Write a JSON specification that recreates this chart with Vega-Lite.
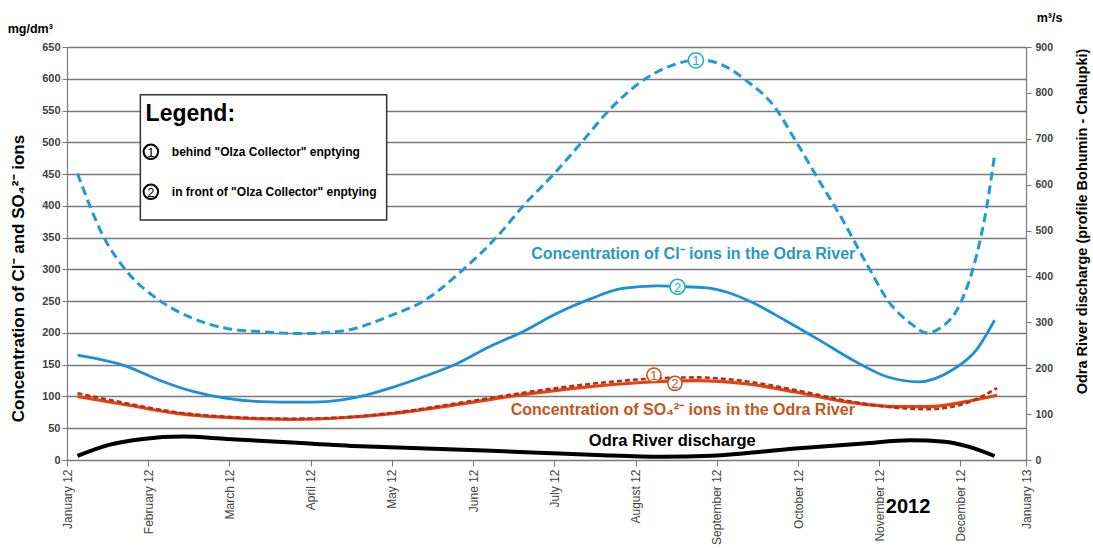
{
  "$schema": "https://vega.github.io/schema/vega-lite/v6.json",
  "width": 959,
  "height": 413,
  "autosize": "none",
  "padding": {"left": 67, "top": 47, "right": 67, "bottom": 88},
  "background": "white",
  "config": {
    "view": {"stroke": null},
    "font": "Liberation Sans",
    "axis": {"labelFont": "Liberation Sans", "titleFont": "Liberation Sans", "domainColor": "#7a7a7a", "tickColor": "#7a7a7a", "gridColor": "#7a7a7a"},
    "axisLeft": {"labelFontWeight": "bold", "labelFontSize": 11, "labelColor": "#404040", "labelPadding": 2, "tickSize": 5},
    "axisRight": {"labelFontWeight": "bold", "labelFontSize": 10.5, "labelColor": "#404040", "labelPadding": 4, "tickSize": 5},
    "axisBottom": {"labelFontWeight": "normal", "labelFontSize": 12, "labelColor": "#444444", "labelPadding": 3, "tickSize": 6}
  },
  "datasets": {
    "conc": [
      {"date": "2012-01-05", "series": "Cl1", "value": 451},
      {"date": "2012-01-15", "series": "Cl1", "value": 351},
      {"date": "2012-01-24", "series": "Cl1", "value": 296},
      {"date": "2012-02-05", "series": "Cl1", "value": 252},
      {"date": "2012-02-18", "series": "Cl1", "value": 223},
      {"date": "2012-03-02", "series": "Cl1", "value": 207},
      {"date": "2012-03-15", "series": "Cl1", "value": 202},
      {"date": "2012-03-30", "series": "Cl1", "value": 199},
      {"date": "2012-04-15", "series": "Cl1", "value": 203},
      {"date": "2012-05-04", "series": "Cl1", "value": 228},
      {"date": "2012-05-16", "series": "Cl1", "value": 250},
      {"date": "2012-05-31", "series": "Cl1", "value": 299},
      {"date": "2012-06-13", "series": "Cl1", "value": 351},
      {"date": "2012-06-24", "series": "Cl1", "value": 404},
      {"date": "2012-07-05", "series": "Cl1", "value": 451},
      {"date": "2012-07-15", "series": "Cl1", "value": 498},
      {"date": "2012-07-26", "series": "Cl1", "value": 551},
      {"date": "2012-08-08", "series": "Cl1", "value": 598},
      {"date": "2012-08-21", "series": "Cl1", "value": 624},
      {"date": "2012-08-29", "series": "Cl1", "value": 630},
      {"date": "2012-09-07", "series": "Cl1", "value": 622},
      {"date": "2012-09-16", "series": "Cl1", "value": 598},
      {"date": "2012-09-27", "series": "Cl1", "value": 556},
      {"date": "2012-10-05", "series": "Cl1", "value": 503},
      {"date": "2012-10-14", "series": "Cl1", "value": 440},
      {"date": "2012-10-23", "series": "Cl1", "value": 378},
      {"date": "2012-11-01", "series": "Cl1", "value": 310},
      {"date": "2012-11-10", "series": "Cl1", "value": 247},
      {"date": "2012-11-18", "series": "Cl1", "value": 215},
      {"date": "2012-11-24", "series": "Cl1", "value": 200},
      {"date": "2012-11-29", "series": "Cl1", "value": 207},
      {"date": "2012-12-07", "series": "Cl1", "value": 247},
      {"date": "2012-12-13", "series": "Cl1", "value": 320},
      {"date": "2012-12-17", "series": "Cl1", "value": 398},
      {"date": "2012-12-20", "series": "Cl1", "value": 480},

      {"date": "2012-01-05", "series": "Cl2", "value": 165},
      {"date": "2012-01-24", "series": "Cl2", "value": 147},
      {"date": "2012-02-05", "series": "Cl2", "value": 126},
      {"date": "2012-02-18", "series": "Cl2", "value": 108},
      {"date": "2012-03-02", "series": "Cl2", "value": 97},
      {"date": "2012-03-15", "series": "Cl2", "value": 92},
      {"date": "2012-03-30", "series": "Cl2", "value": 91},
      {"date": "2012-04-09", "series": "Cl2", "value": 92},
      {"date": "2012-04-22", "series": "Cl2", "value": 100},
      {"date": "2012-05-04", "series": "Cl2", "value": 114},
      {"date": "2012-05-16", "series": "Cl2", "value": 131},
      {"date": "2012-05-29", "series": "Cl2", "value": 152},
      {"date": "2012-06-10", "series": "Cl2", "value": 178},
      {"date": "2012-06-23", "series": "Cl2", "value": 202},
      {"date": "2012-07-06", "series": "Cl2", "value": 231},
      {"date": "2012-07-19", "series": "Cl2", "value": 254},
      {"date": "2012-07-31", "series": "Cl2", "value": 270},
      {"date": "2012-08-13", "series": "Cl2", "value": 274},
      {"date": "2012-08-21", "series": "Cl2", "value": 273},
      {"date": "2012-09-01", "series": "Cl2", "value": 271},
      {"date": "2012-09-09", "series": "Cl2", "value": 264},
      {"date": "2012-09-19", "series": "Cl2", "value": 247},
      {"date": "2012-10-01", "series": "Cl2", "value": 220},
      {"date": "2012-10-14", "series": "Cl2", "value": 189},
      {"date": "2012-10-27", "series": "Cl2", "value": 157},
      {"date": "2012-11-09", "series": "Cl2", "value": 131},
      {"date": "2012-11-21", "series": "Cl2", "value": 123},
      {"date": "2012-12-04", "series": "Cl2", "value": 142},
      {"date": "2012-12-13", "series": "Cl2", "value": 173},
      {"date": "2012-12-20", "series": "Cl2", "value": 220},

      {"date": "2012-01-05", "series": "SO2", "value": 100},
      {"date": "2012-01-24", "series": "SO2", "value": 86.5},
      {"date": "2012-02-12", "series": "SO2", "value": 73.5},
      {"date": "2012-03-02", "series": "SO2", "value": 67},
      {"date": "2012-03-27", "series": "SO2", "value": 64},
      {"date": "2012-04-15", "series": "SO2", "value": 66.5},
      {"date": "2012-05-04", "series": "SO2", "value": 73},
      {"date": "2012-05-30", "series": "SO2", "value": 88},
      {"date": "2012-06-25", "series": "SO2", "value": 104},
      {"date": "2012-07-15", "series": "SO2", "value": 114},
      {"date": "2012-08-07", "series": "SO2", "value": 122},
      {"date": "2012-08-28", "series": "SO2", "value": 125},
      {"date": "2012-09-16", "series": "SO2", "value": 120},
      {"date": "2012-10-05", "series": "SO2", "value": 107},
      {"date": "2012-10-25", "series": "SO2", "value": 91},
      {"date": "2012-11-13", "series": "SO2", "value": 84},
      {"date": "2012-11-25", "series": "SO2", "value": 84},
      {"date": "2012-12-08", "series": "SO2", "value": 91},
      {"date": "2012-12-21", "series": "SO2", "value": 102},

      {"date": "2012-01-05", "series": "SO1", "value": 105},
      {"date": "2012-01-24", "series": "SO1", "value": 89},
      {"date": "2012-02-12", "series": "SO1", "value": 75},
      {"date": "2012-03-02", "series": "SO1", "value": 68},
      {"date": "2012-03-27", "series": "SO1", "value": 65},
      {"date": "2012-04-15", "series": "SO1", "value": 67},
      {"date": "2012-05-04", "series": "SO1", "value": 74},
      {"date": "2012-05-30", "series": "SO1", "value": 90},
      {"date": "2012-06-25", "series": "SO1", "value": 107},
      {"date": "2012-07-15", "series": "SO1", "value": 118},
      {"date": "2012-08-07", "series": "SO1", "value": 127},
      {"date": "2012-08-28", "series": "SO1", "value": 130},
      {"date": "2012-09-16", "series": "SO1", "value": 124},
      {"date": "2012-10-05", "series": "SO1", "value": 110},
      {"date": "2012-10-25", "series": "SO1", "value": 93},
      {"date": "2012-11-13", "series": "SO1", "value": 82},
      {"date": "2012-11-25", "series": "SO1", "value": 80},
      {"date": "2012-12-08", "series": "SO1", "value": 88},
      {"date": "2012-12-21", "series": "SO1", "value": 113}
    ],
    "flow": [
      {"date": "2012-01-05", "q": 9},
      {"date": "2012-01-17", "q": 33},
      {"date": "2012-01-30", "q": 46},
      {"date": "2012-02-14", "q": 51},
      {"date": "2012-03-02", "q": 46},
      {"date": "2012-03-27", "q": 38},
      {"date": "2012-04-22", "q": 30},
      {"date": "2012-05-17", "q": 25},
      {"date": "2012-06-11", "q": 20},
      {"date": "2012-06-29", "q": 16},
      {"date": "2012-07-21", "q": 11},
      {"date": "2012-08-15", "q": 7},
      {"date": "2012-09-03", "q": 9.5},
      {"date": "2012-10-05", "q": 25},
      {"date": "2012-10-31", "q": 36},
      {"date": "2012-11-18", "q": 43},
      {"date": "2012-12-01", "q": 40},
      {"date": "2012-12-10", "q": 29},
      {"date": "2012-12-20", "q": 8.7}
    ],
    "notes": [
      {"key": "box", "date": "2012-01-29", "date2": "2012-05-02", "value": 377.6, "value2": 575},
      {"key": "cl_label", "date": "2012-08-27", "value": 324, "text": "Concentration of Cl⁻ ions in the Odra River"},
      {"key": "so_label", "date": "2012-08-23", "value": 78.7, "text": "Concentration of SO₄²⁻ ions in the Odra River"},
      {"key": "q_label", "date": "2012-08-19", "value": 30, "text": "Odra River discharge"},
      {"key": "cl1", "date": "2012-08-28", "value": 629, "text": "1"},
      {"key": "cl2", "date": "2012-08-21", "value": 272.6, "text": "2"},
      {"key": "so1", "date": "2012-08-12", "value": 133.7, "text": "1"},
      {"key": "so2", "date": "2012-08-20", "value": 120.7, "text": "2"},
      {"key": "lg_title", "date": "2012-01-31", "value": 544, "text": "Legend:"},
      {"key": "lg1", "date": "2012-02-02", "value": 485, "text": "1"},
      {"key": "lg2", "date": "2012-02-02", "value": 422, "text": "2"},
      {"key": "lgt1", "date": "2012-02-10", "value": 485, "text": "behind \"Olza Collector\" enptying"},
      {"key": "lgt2", "date": "2012-02-10", "value": 422, "text": "in front of \"Olza Collector\" enptying"},
      {"key": "unit_left", "date": "2011-12-18", "value": 679, "text": "mg/dm³"},
      {"key": "unit_right", "date": "2013-01-10", "value": 695, "text": "m³/s"},
      {"key": "year", "date": "2012-11-17", "value": -73.5, "text": "2012"}
    ]
  },
  "encoding": {
    "x": {
      "field": "date", "type": "temporal",
      "scale": {"type": "utc", "domain": [{"year": 2012, "month": 1, "date": 1, "utc": true}, {"year": 2013, "month": 1, "date": 1, "utc": true}]},
      "axis": {
        "title": null,
        "orient": "bottom",
        "values": [
          {"year": 2012, "month": 1, "date": 1, "utc": true},
          {"year": 2012, "month": 2, "date": 1, "utc": true},
          {"year": 2012, "month": 3, "date": 3, "utc": true},
          {"year": 2012, "month": 4, "date": 3, "utc": true},
          {"year": 2012, "month": 5, "date": 4, "utc": true},
          {"year": 2012, "month": 6, "date": 4, "utc": true},
          {"year": 2012, "month": 7, "date": 5, "utc": true},
          {"year": 2012, "month": 8, "date": 5, "utc": true},
          {"year": 2012, "month": 9, "date": 5, "utc": true},
          {"year": 2012, "month": 10, "date": 6, "utc": true},
          {"year": 2012, "month": 11, "date": 6, "utc": true},
          {"year": 2012, "month": 12, "date": 7, "utc": true},
          {"year": 2013, "month": 1, "date": 1, "utc": true}
        ],
        "labelExpr": "utcFormat(datum.value, '%B %y')",
        "labelAngle": -90,
        "labelFontSize": 12,
        "labelColor": "#444444",
        "labelOverlap": false,
        "labelBound": false,
        "labelFlush": false,
        "tickSize": 6,
        "domainWidth": 1.2,
        "grid": false
      }
    }
  },
  "layer": [
    {
      "encoding": {
        "y": {
          "field": "value", "type": "quantitative",
          "scale": {"domain": [0, 650], "nice": false, "zero": false},
          "axis": {
            "orient": "left",
            "title": "Concentration of Cl⁻ and SO₄²⁻ ions",
            "values": [0, 50, 100, 150, 200, 250, 300, 350, 400, 450, 500, 550, 600, 650],
            "grid": true,
            "gridWidth": 1.3,
            "domainWidth": 1.2,
            "labelFontWeight": "bold",
            "labelFontSize": 11,
            "titleFontWeight": "bold",
            "titleFontSize": 17,
            "titleColor": "#000000",
            "titleAngle": -90,
            "titleX": -49,
            "titleY": 231,
            "titleAlign": "center",
            "titleBaseline": "middle"
          }
        }
      },
      "layer": [
        {
          "data": {"name": "conc"},
          "transform": [{"filter": "datum.series === 'Cl1'"}],
          "mark": {"type": "line", "color": "#1e9ad6", "strokeWidth": 3, "strokeDash": [9, 5], "interpolate": "monotone"}
        },
        {
          "data": {"name": "notes"},
          "transform": [{"filter": "datum.key === 'box'"}],
          "mark": {"type": "rect", "fill": "white", "stroke": "#333333", "strokeWidth": 1.5},
          "encoding": {
            "x2": {"field": "date2"},
            "y2": {"field": "value2"}
          }
        },
        {
          "data": {"name": "conc"},
          "transform": [{"filter": "datum.series === 'Cl2'"}],
          "mark": {"type": "line", "color": "#1b90d8", "strokeWidth": 2.8, "interpolate": "monotone"}
        },
        {
          "data": {"name": "conc"},
          "transform": [{"filter": "datum.series === 'SO2'"}],
          "mark": {"type": "line", "color": "#e8400e", "strokeWidth": 3.2, "interpolate": "monotone"}
        },
        {
          "data": {"name": "conc"},
          "transform": [{"filter": "datum.series === 'SO1'"}],
          "mark": {"type": "line", "color": "#b0301a", "strokeWidth": 2.6, "strokeDash": [5, 3], "interpolate": "monotone"}
        },
        {
          "data": {"name": "notes"},
          "transform": [{"filter": "indexof(['cl1','cl2','so1','so2','lg1','lg2'], datum.key) >= 0"}],
          "mark": {"type": "point", "shape": "circle", "filled": false, "fill": "white", "fillOpacity": 1, "opacity": 1},
          "encoding": {
            "stroke": {
              "condition": [
                {"test": "datum.key === 'cl1' || datum.key === 'cl2'", "value": "#1fb0cb"},
                {"test": "datum.key === 'so1' || datum.key === 'so2'", "value": "#c9521d"}
              ],
              "value": "#000000"
            },
            "size": {
              "condition": [
                {"test": "datum.key === 'cl1' || datum.key === 'cl2'", "value": 230},
                {"test": "datum.key === 'so1' || datum.key === 'so2'", "value": 200}
              ],
              "value": 210
            },
            "strokeWidth": {
              "condition": {"test": "datum.key === 'lg1' || datum.key === 'lg2'", "value": 2},
              "value": 1.6
            }
          }
        },
        {
          "data": {"name": "notes"},
          "transform": [{"filter": "indexof(['cl1','cl2','so1','so2','lg1','lg2'], datum.key) >= 0"}],
          "mark": {"type": "text", "fontSize": 13, "font": "Liberation Sans", "align": "center", "baseline": "middle", "dy": 1},
          "encoding": {
            "text": {"field": "text"},
            "color": {
              "condition": [
                {"test": "datum.key === 'cl1' || datum.key === 'cl2'", "value": "#1fb0cb"},
                {"test": "datum.key === 'so1' || datum.key === 'so2'", "value": "#c9521d"}
              ],
              "value": "#000000"
            }
          }
        },
        {
          "data": {"name": "notes"},
          "transform": [{"filter": "indexof(['cl_label','so_label','q_label','unit_left','unit_right','year'], datum.key) >= 0"}],
          "mark": {"type": "text", "fontWeight": "bold", "font": "Liberation Sans", "align": "center", "baseline": "middle"},
          "encoding": {
            "text": {"field": "text"},
            "color": {
              "condition": [
                {"test": "datum.key === 'cl_label'", "value": "#2799c6"},
                {"test": "datum.key === 'so_label'", "value": "#c4561c"}
              ],
              "value": "#000000"
            },
            "size": {
              "condition": [
                {"test": "datum.key === 'year'", "value": 20},
                {"test": "datum.key === 'unit_left' || datum.key === 'unit_right'", "value": 12.5},
                {"test": "datum.key === 'q_label'", "value": 16.5}
              ],
              "value": 16
            }
          }
        },
        {
          "data": {"name": "notes"},
          "transform": [{"filter": "indexof(['lg_title','lgt1','lgt2'], datum.key) >= 0"}],
          "mark": {"type": "text", "color": "#000000", "fontWeight": "bold", "font": "Liberation Sans", "align": "left", "baseline": "middle"},
          "encoding": {
            "text": {"field": "text"},
            "size": {
              "condition": {"test": "datum.key === 'lg_title'", "value": 23},
              "value": 12
            }
          }
        }
      ]
    },
    {
      "data": {"name": "flow"},
      "mark": {"type": "line", "color": "#000000", "strokeWidth": 4, "interpolate": "monotone"},
      "encoding": {
        "y": {
          "field": "q", "type": "quantitative",
          "scale": {"domain": [0, 900], "nice": false, "zero": false},
          "axis": {
            "orient": "right",
            "title": "Odra River discharge (profile Bohumin - Chalupki)",
            "values": [0, 100, 200, 300, 400, 500, 600, 700, 800, 900],
            "grid": false,
            "domainWidth": 1.2,
            "labelFontWeight": "bold",
            "labelFontSize": 10.5,
            "titleFontWeight": "bold",
            "titleFontSize": 14.5,
            "titleColor": "#000000",
            "titleAngle": -90,
            "titleX": 56,
            "titleY": 174,
            "titleAlign": "center",
            "titleBaseline": "middle"
          }
        }
      }
    }
  ],
  "resolve": {"scale": {"y": "independent"}}
}
